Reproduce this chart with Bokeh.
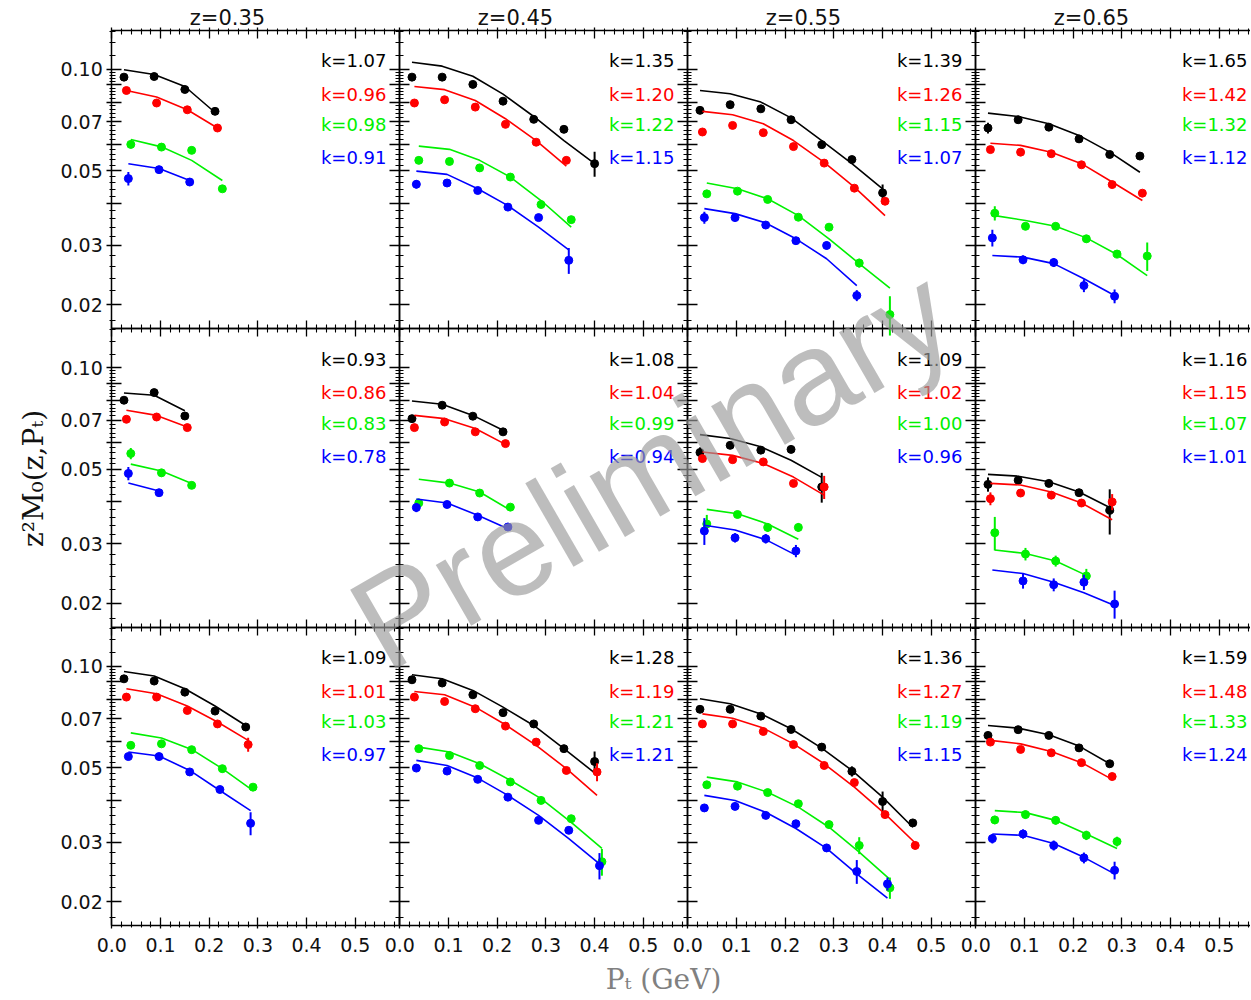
import math
from bokeh.plotting import figure
from bokeh.models import (Range1d, LogScale, LinearAxis, LogAxis, FixedTicker,
                          NumeralTickFormatter, CustomJSTickFormatter, Label)
from bokeh.embed import file_html
from bokeh.resources import INLINE

NAN = float("nan")

# ---------------------------------------------------------------- texts / ticks
Z_TITLES = ["z=0.35", "z=0.45", "z=0.55", "z=0.65"]
X_TICK_VALUES = [0.0, 0.1, 0.2, 0.3, 0.4, 0.5]
Y_TICK_VALUES = [0.02, 0.03, 0.05, 0.07, 0.10]
Y_TICK_LABELS = ["0.02", "0.03", "0.05", "0.07", "0.10"]
X_TITLE = "P\u209c (GeV)"
Y_TITLE = "z\u00b2M\u2080(z,P\u209c)"
WATERMARK = "Preliminary"

# ---------------------------------------------------------------- Pt positions (GeV) per series
PT_BLACK = [0.025, 0.087, 0.150, 0.212, 0.275, 0.337, 0.400, 0.462]
PT_RED = [0.030, 0.092, 0.155, 0.217, 0.280, 0.342, 0.405, 0.467]
PT_GREEN = [0.039, 0.102, 0.164, 0.227, 0.290, 0.352, 0.415]
PT_BLUE = [0.034, 0.097, 0.160, 0.222, 0.285, 0.347, 0.410]

# ---------------------------------------------------------------- row A (top)
A1_pts = [[0.0949, 0.0953, 0.0872, 0.0751],
          [0.0866, 0.0795, 0.0759, 0.0670],
          [0.0599, 0.0588, 0.0575, 0.0442],
          [0.0474, 0.0504, 0.0463]]
A1_fit = [[0.0998, 0.0966, 0.0890, 0.0745],
          [0.0866, 0.0828, 0.0759, 0.0670],
          [0.0619, 0.0589, 0.0537, 0.0468],
          [0.0525, 0.0508, 0.0468]]
A1_err = [[0.0012, 0.0008, 0.0008, 0.0008],
          [0.0008, 0.0008, 0.0008, 0.0008],
          [0.0016, 0.0008, 0.0008, 0.0008],
          [0.0022, 0.0008, 0.0012]]
A1_k = ["k=1.07", "k=0.96", "k=0.98", "k=0.91"]

A2_pts = [[0.0949, 0.0949, 0.0903, 0.0805, 0.0711, 0.0664, 0.0525],
          [0.0795, 0.0813, 0.0773, 0.0687, 0.0608, 0.0537],
          [0.0537, 0.0533, 0.0510, 0.0479, 0.0397, 0.0358],
          [0.0456, 0.0460, 0.0437, 0.0390, 0.0363, 0.0271]]
A2_fit = [[0.1051, 0.1023, 0.0955, 0.0845, 0.0725, 0.0615, 0.0525],
          [0.0890, 0.0871, 0.0809, 0.0714, 0.0615, 0.0516],
          [0.0592, 0.0579, 0.0537, 0.0479, 0.0408, 0.0340],
          [0.0499, 0.0488, 0.0442, 0.0394, 0.0340, 0.0291]]
A2_err = [[0.0008, 0.0008, 0.0008, 0.0008, 0.0008, 0.0008, 0.0045],
          [0.0008, 0.0008, 0.0008, 0.0008, 0.0008, 0.0008],
          [0.0008, 0.0008, 0.0008, 0.0008, 0.0008, 0.0008],
          [0.0013, 0.0008, 0.0008, 0.0008, 0.0008, 0.0024]]
A2_k = ["k=1.35", "k=1.20", "k=1.22", "k=1.15"]

A3_pts = [[0.0756, 0.0786, 0.0764, 0.0709, 0.0598, 0.0540, 0.0430],
          [0.0652, 0.0682, 0.0649, 0.0590, 0.0527, 0.0444, 0.0406],
          [0.0427, 0.0435, 0.0411, 0.0364, 0.0340, 0.0266, 0.0187],
          [0.0363, 0.0363, 0.0345, 0.0310, 0.0300, 0.0213]]
A3_fit = [[0.0866, 0.0847, 0.0800, 0.0718, 0.0615, 0.0525, 0.0442],
          [0.0751, 0.0734, 0.0690, 0.0615, 0.0530, 0.0447, 0.0368],
          [0.0460, 0.0442, 0.0413, 0.0368, 0.0314, 0.0265, 0.0224],
          [0.0386, 0.0373, 0.0350, 0.0314, 0.0274, 0.0228]]
A3_err = [[0.0010, 0.0008, 0.0008, 0.0008, 0.0008, 0.0008, 0.0025],
          [0.0008, 0.0008, 0.0008, 0.0008, 0.0008, 0.0008, 0.0008],
          [0.0008, 0.0008, 0.0008, 0.0008, 0.0008, 0.0008, 0.0025],
          [0.0015, 0.0008, 0.0008, 0.0008, 0.0008, 0.0008]]
A3_k = ["k=1.39", "k=1.26", "k=1.15", "k=1.07"]

A4_pts = [[0.0670, 0.0709, 0.0674, 0.0622, 0.0559, 0.0553],
          [0.0578, 0.0568, 0.0562, 0.0521, 0.0455, 0.0429],
          [0.0374, 0.0342, 0.0342, 0.0314, 0.0283, 0.0279],
          [0.0316, 0.0272, 0.0267, 0.0228, 0.0212]]
A4_fit = [[0.0742, 0.0725, 0.0690, 0.0637, 0.0568, 0.0495],
          [0.0604, 0.0595, 0.0568, 0.0525, 0.0463, 0.0408],
          [0.0368, 0.0356, 0.0342, 0.0316, 0.0282, 0.0244],
          [0.0280, 0.0277, 0.0265, 0.0239, 0.0213]]
A4_err = [[0.0025, 0.0008, 0.0008, 0.0008, 0.0008, 0.0008],
          [0.0012, 0.0008, 0.0008, 0.0008, 0.0008, 0.0008],
          [0.0018, 0.0008, 0.0008, 0.0008, 0.0008, 0.0027],
          [0.0018, 0.0008, 0.0008, 0.0010, 0.0010]]
A4_k = ["k=1.65", "k=1.42", "k=1.32", "k=1.12"]

# ---------------------------------------------------------------- row B (middle)
B1_pts = [[0.0802, 0.0845, 0.0720],
          [0.0704, 0.0715, 0.0665],
          [0.0557, 0.0488, 0.0448],
          [0.0486, 0.0426]]
B1_fit = [[0.0843, 0.0830, 0.0746],
          [0.0749, 0.0723, 0.0668],
          [0.0518, 0.0494, 0.0454],
          [0.0455, 0.0431]]
B1_err = [[0.0015, 0.0012, 0.0012],
          [0.0008, 0.0008, 0.0008],
          [0.0021, 0.0012, 0.0008],
          [0.0022, 0.0010]]
B1_k = ["k=0.93", "k=0.86", "k=0.83", "k=0.78"]

B2_pts = [[0.0707, 0.0775, 0.0719, 0.0646],
          [0.0665, 0.0691, 0.0646, 0.0596],
          [0.0397, 0.0455, 0.0425, 0.0386],
          [0.0385, 0.0393, 0.0361, 0.0337]]
B2_fit = [[0.0798, 0.0780, 0.0723, 0.0653],
          [0.0723, 0.0707, 0.0661, 0.0593],
          [0.0467, 0.0455, 0.0428, 0.0378],
          [0.0408, 0.0397, 0.0365, 0.0333]]
B2_err = [[0.0010, 0.0008, 0.0008, 0.0008],
          [0.0008, 0.0008, 0.0008, 0.0008],
          [0.0012, 0.0008, 0.0008, 0.0008],
          [0.0012, 0.0008, 0.0008, 0.0008]]
B2_k = ["k=1.08", "k=1.04", "k=0.99", "k=0.94"]

B3_pts = [[0.0561, 0.0589, 0.0570, 0.0573, 0.0443],
          [0.0538, 0.0534, 0.0526, 0.0454, 0.0443],
          [0.0344, 0.0367, 0.0336, 0.0336],
          [0.0328, 0.0313, 0.0311, 0.0286]]
B3_fit = [[0.0634, 0.0617, 0.0583, 0.0532, 0.0473],
          [0.0563, 0.0550, 0.0520, 0.0474, 0.0419],
          [0.0380, 0.0369, 0.0344, 0.0310],
          [0.0341, 0.0330, 0.0309, 0.0278]]
B3_err = [[0.0020, 0.0008, 0.0008, 0.0008, 0.0045],
          [0.0012, 0.0008, 0.0010, 0.0008, 0.0035],
          [0.0022, 0.0008, 0.0010, 0.0010],
          [0.0030, 0.0010, 0.0010, 0.0012]]
B3_k = ["k=1.09", "k=1.02", "k=1.00", "k=0.96"]

B4_pts = [[0.0451, 0.0464, 0.0454, 0.0426, 0.0378],
          [0.0409, 0.0425, 0.0419, 0.0397, 0.0400],
          [0.0324, 0.0280, 0.0267, 0.0241],
          [NAN, 0.0233, 0.0227, 0.0231, 0.0199]]
B4_fit = [[0.0483, 0.0477, 0.0459, 0.0428, 0.0385],
          [0.0454, 0.0449, 0.0428, 0.0397, 0.0354],
          [0.0288, 0.0281, 0.0267, 0.0242],
          [0.0251, 0.0245, 0.0231, 0.0215, 0.0197]]
B4_err = [[0.0022, 0.0012, 0.0008, 0.0010, 0.0058],
          [0.0018, 0.0010, 0.0010, 0.0010, 0.0022],
          [0.0037, 0.0012, 0.0010, 0.0012],
          [0.0, 0.0012, 0.0010, 0.0012, 0.0019]]
B4_k = ["k=1.16", "k=1.15", "k=1.07", "k=1.01"]

# ---------------------------------------------------------------- row C (bottom)
C1_pts = [[0.0919, 0.0905, 0.0839, 0.0737, 0.0661],
          [0.0811, 0.0811, 0.0740, 0.0675, 0.0586],
          [0.0583, 0.0589, 0.0566, 0.0497, 0.0438],
          [0.0540, 0.0540, 0.0486, 0.0431, 0.0342]]
C1_fit = [[0.0966, 0.0937, 0.0859, 0.0763, 0.0668],
          [0.0859, 0.0830, 0.0763, 0.0684, 0.0603],
          [0.0635, 0.0613, 0.0567, 0.0497, 0.0428],
          [0.0557, 0.0542, 0.0491, 0.0428, 0.0373]]
C1_err = [[0.0010, 0.0010, 0.0008, 0.0008, 0.0010],
          [0.0008, 0.0008, 0.0008, 0.0008, 0.0028],
          [0.0008, 0.0010, 0.0010, 0.0012, 0.0008],
          [0.0010, 0.0010, 0.0008, 0.0008, 0.0027]]
C1_k = ["k=1.09", "k=1.01", "k=1.03", "k=0.97"]

C2_pts = [[0.0913, 0.0893, 0.0824, 0.0729, 0.0675, 0.0570, 0.0522],
          [0.0811, 0.0787, 0.0749, 0.0665, 0.0596, 0.0491, 0.0486],
          [0.0570, 0.0544, 0.0508, 0.0454, 0.0400, 0.0353, 0.0263],
          [0.0499, 0.0489, 0.0462, 0.0409, 0.0349, 0.0326, 0.0256]]
C2_fit = [[0.0945, 0.0919, 0.0849, 0.0757, 0.0668, 0.0570, 0.0483],
          [0.0843, 0.0824, 0.0757, 0.0671, 0.0583, 0.0497, 0.0414],
          [0.0576, 0.0557, 0.0514, 0.0459, 0.0405, 0.0344, 0.0288],
          [0.0526, 0.0508, 0.0466, 0.0414, 0.0361, 0.0308, 0.0259]]
C2_err = [[0.0008, 0.0008, 0.0008, 0.0008, 0.0008, 0.0008, 0.0037],
          [0.0008, 0.0008, 0.0008, 0.0008, 0.0008, 0.0008, 0.0030],
          [0.0008, 0.0008, 0.0008, 0.0008, 0.0008, 0.0008, 0.0024],
          [0.0008, 0.0008, 0.0008, 0.0008, 0.0008, 0.0008, 0.0023]]
C2_k = ["k=1.28", "k=1.19", "k=1.21", "k=1.21"]

C3_pts = [[0.0746, 0.0746, 0.0712, 0.0650, 0.0576, 0.0488, 0.0397, 0.0343],
          [0.0675, 0.0675, 0.0641, 0.0586, 0.0508, 0.0452, 0.0363, 0.0294],
          [0.0445, 0.0441, 0.0422, 0.0391, 0.0339, 0.0294, 0.0220],
          [0.0380, 0.0384, 0.0361, 0.0341, 0.0289, 0.0246, 0.0226]]
C3_fit = [[0.0802, 0.0775, 0.0723, 0.0653, 0.0572, 0.0491, 0.0409, 0.0333],
          [0.0723, 0.0702, 0.0656, 0.0589, 0.0514, 0.0438, 0.0365, 0.0299],
          [0.0469, 0.0454, 0.0423, 0.0382, 0.0333, 0.0281, 0.0233],
          [0.0414, 0.0400, 0.0369, 0.0330, 0.0288, 0.0242, 0.0205]]
C3_err = [[0.0008, 0.0008, 0.0008, 0.0008, 0.0008, 0.0017, 0.0028, 0.0008],
          [0.0008, 0.0008, 0.0008, 0.0008, 0.0008, 0.0008, 0.0008, 0.0008],
          [0.0008, 0.0008, 0.0008, 0.0008, 0.0008, 0.0017, 0.0016],
          [0.0008, 0.0008, 0.0008, 0.0008, 0.0008, 0.0020, 0.0010]]
C3_k = ["k=1.36", "k=1.27", "k=1.19", "k=1.15"]

C4_pts = [[0.0624, 0.0649, 0.0624, 0.0573, 0.0514],
          [0.0596, 0.0567, 0.0554, 0.0518, 0.0471],
          [0.0350, 0.0363, 0.0349, 0.0315, 0.0302],
          [0.0308, 0.0318, 0.0294, 0.0270, 0.0248]]
C4_fit = [[0.0668, 0.0656, 0.0627, 0.0580, 0.0514],
          [0.0603, 0.0589, 0.0559, 0.0518, 0.0462],
          [0.0373, 0.0368, 0.0349, 0.0318, 0.0288],
          [0.0318, 0.0315, 0.0298, 0.0271, 0.0242]]
C4_err = [[0.0010, 0.0010, 0.0010, 0.0010, 0.0010],
          [0.0012, 0.0010, 0.0010, 0.0010, 0.0012],
          [0.0010, 0.0010, 0.0010, 0.0010, 0.0010],
          [0.0010, 0.0010, 0.0010, 0.0010, 0.0015]]
C4_k = ["k=1.59", "k=1.48", "k=1.33", "k=1.24"]

PANELS = [
    [(A1_pts, A1_fit, A1_err, A1_k), (A2_pts, A2_fit, A2_err, A2_k),
     (A3_pts, A3_fit, A3_err, A3_k), (A4_pts, A4_fit, A4_err, A4_k)],
    [(B1_pts, B1_fit, B1_err, B1_k), (B2_pts, B2_fit, B2_err, B2_k),
     (B3_pts, B3_fit, B3_err, B3_k), (B4_pts, B4_fit, B4_err, B4_k)],
    [(C1_pts, C1_fit, C1_err, C1_k), (C2_pts, C2_fit, C2_err, C2_k),
     (C3_pts, C3_fit, C3_err, C3_k), (C4_pts, C4_fit, C4_err, C4_k)],
]
SERIES_PT = [PT_BLACK, PT_RED, PT_GREEN, PT_BLUE]

# ---------------------------------------------------------------- style / geometry (canvas px)
SERIES_COLORS = ["#000000", "#ff0000", "#00f000", "#0000ff"]
W, H = 1250, 997
LEFT, TOP = 111.3, 29.5
PANEL_W, PANEL_H = 288.0, 298.5
PX_PER_GEV = 487.0
Y_LO, Y_HI = 0.0170, 0.131
PX_PER_DEC = PANEL_H / math.log10(Y_HI / Y_LO)
K_OFFSETS = [30.5, 64, 94.5, 127.5]

X_MAJOR = X_TICK_VALUES
X_MINOR = [round(0.02 * i, 2) for i in range(1, 30) if i % 5]
Y_MAJOR = [0.02, 0.03, 0.04, 0.05, 0.06, 0.07, 0.08, 0.09, 0.10]
Y_MINOR = [round(0.002 * i, 3) for i in range(9, 50) if i % 5] + [0.11, 0.12, 0.13]

p = figure(width=W, height=H,
           x_range=Range1d(0, W), y_range=Range1d(0, H),
           x_axis_location=None, y_axis_location=None,
           output_backend="svg", toolbar_location=None,
           min_border=0, min_border_left=0, min_border_right=0,
           min_border_top=0, min_border_bottom=0,
           outline_line_color=None)
for g in p.grid:
    g.visible = False


def col_left(c):
    return LEFT + c * PANEL_W


def row_top(r):
    return TOP + r * PANEL_H


p.extra_x_ranges = {f"c{c}": Range1d(-col_left(c) / PX_PER_GEV, (W - col_left(c)) / PX_PER_GEV)
                    for c in range(4)}
p.extra_y_ranges = {f"r{r}": Range1d(Y_LO / 10 ** ((H - row_top(r) - PANEL_H) / PX_PER_DEC),
                                     Y_HI * 10 ** (row_top(r) / PX_PER_DEC))
                    for r in range(3)}
p.extra_y_scales = {f"r{r}": LogScale() for r in range(3)}

y_fmt = CustomJSTickFormatter(args=dict(vals=Y_TICK_VALUES, labs=Y_TICK_LABELS), code="""
const i = vals.findIndex((v) => Math.abs(v - tick) < 1e-9);
return i >= 0 ? labs[i] : "";
""")
x_fmt = NumeralTickFormatter(format="0.0")


def add_axis(cls, side, xr, yr, loc, bounds, vertical, labeled, tout):
    if vertical:
        ticker = FixedTicker(ticks=Y_MAJOR, minor_ticks=Y_MINOR)
        fmt = y_fmt
        tin, mtin = 10, 4
        standoff = 4
    else:
        ticker = FixedTicker(ticks=X_MAJOR, minor_ticks=X_MINOR)
        fmt = x_fmt
        tin, mtin = 8, 4
        standoff = 9
    ax = cls(x_range_name=xr, y_range_name=yr, fixed_location=loc, bounds=bounds,
             ticker=ticker, formatter=fmt,
             axis_line_color="black", axis_line_width=1.5,
             major_tick_line_color="black", major_tick_line_width=1.3,
             minor_tick_line_color="black", minor_tick_line_width=1.1,
             major_tick_in=tin, major_tick_out=tout,
             minor_tick_in=mtin, minor_tick_out=min(tout, 2),
             major_label_text_font="DejaVu Sans", major_label_text_font_size="19px",
             major_label_text_color="#111111" if labeled else None,
             major_label_standoff=standoff)
    p.add_layout(ax, side)


def sx(px):
    return px


def sy(py):
    return H - py


for r in range(3):
    for c in range(4):
        xr, yr = f"c{c}", f"r{r}"
        w = (W - col_left(c)) if c == 3 else PANEL_W
        x_end = w / PX_PER_GEV
        xb = (0, x_end)
        yb = (Y_LO, Y_HI)
        add_axis(LogAxis, "left", xr, yr, 0, yb, True, c == 0, 5 if c == 0 else 0)
        if c < 3:
            add_axis(LogAxis, "right", xr, yr, x_end, yb, True, False, 0)
        add_axis(LinearAxis, "above", xr, yr, Y_HI, xb, False, False, 3 if r == 0 else 0)
        add_axis(LinearAxis, "below", xr, yr, Y_LO, xb, False, r == 2, 3 if r == 2 else 0)

        pts, fit, err, ks = PANELS[r][c]
        for s in range(4):
            col = SERIES_COLORS[s]
            xs = SERIES_PT[s]
            fs = fit[s]
            p.line(xs[:len(fs)], fs, x_range_name=xr, y_range_name=yr,
                   line_color=col, line_width=1.6)
            ys, es = pts[s], err[s]
            n = len(ys)
            p.segment(x0=xs[:n], x1=xs[:n],
                      y0=[y - e for y, e in zip(ys, es)], y1=[y + e for y, e in zip(ys, es)],
                      x_range_name=xr, y_range_name=yr, line_color=col, line_width=2)
            p.scatter(xs[:n], ys, x_range_name=xr, y_range_name=yr, size=8,
                      fill_color=col, line_color=col)
            p.add_layout(Label(x=sx(col_left(c) + min(274.7, w - 3)),
                               y=sy(row_top(r) + K_OFFSETS[s]),
                               x_units="screen", y_units="screen", text=ks[s],
                               text_align="right", text_baseline="middle",
                               text_color=col, text_font="DejaVu Sans",
                               text_font_size="18px"))

for c in range(4):
    p.add_layout(Label(x=sx(col_left(c) + 78), y=sy(17), x_units="screen", y_units="screen",
                       text=Z_TITLES[c], text_align="left", text_baseline="middle",
                       text_color="#111111", text_font="DejaVu Sans", text_font_size="21px"))

p.add_layout(Label(x=sx(33), y=sy(478), x_units="screen", y_units="screen",
                   text=Y_TITLE, angle=90, angle_units="deg", text_align="center",
                   text_baseline="middle", text_color="#111111",
                   text_font="DejaVu Serif", text_font_size="28px"))
p.add_layout(Label(x=sx(663), y=sy(979), x_units="screen", y_units="screen",
                   text=X_TITLE, text_align="center", text_baseline="middle",
                   text_color="#808080", text_font="DejaVu Serif", text_font_size="28px"))

p.add_layout(Label(x=sx(651), y=sy(468), x_units="screen", y_units="screen",
                   text=WATERMARK, angle=30, angle_units="deg", text_align="center",
                   text_baseline="middle", text_color="#9a9a9a", text_alpha=0.65,
                   text_font="Liberation Sans", text_font_size="133px"))

open("out.html", "w").write(file_html(p, INLINE))
